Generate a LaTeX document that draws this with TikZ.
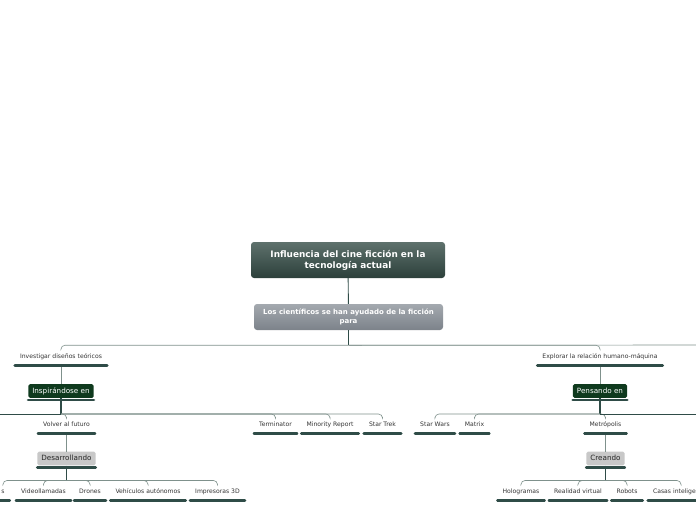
\documentclass[tikz,border=0pt]{standalone}
\usepackage{fontspec}
\setmainfont{DejaVu Sans}
\definecolor{rootTop}{HTML}{5E716C}
\definecolor{rootBot}{HTML}{2C403B}
\definecolor{sciTop}{HTML}{A4A9AF}
\definecolor{sciBot}{HTML}{7C828A}
\definecolor{barcol}{HTML}{2F4C47}
\definecolor{linkcol}{HTML}{7F918C}
\definecolor{boxgreen}{HTML}{0F3A1E}
\definecolor{boxgray}{HTML}{C8C8C8}
\definecolor{txt}{HTML}{333333}
\tikzset{
  root/.style={rounded corners=3, top color=rootTop, bottom color=rootBot, text=white,
    font=\fontsize{8.9}{11}\selectfont\bfseries, align=center,
    minimum width=194, minimum height=36, inner sep=0},
  sci/.style={rounded corners=3, top color=sciTop, bottom color=sciBot, text=white,
    font=\fontsize{7}{9}\selectfont\bfseries, align=center,
    minimum width=189, minimum height=26, inner sep=0},
  topic/.style={font=\fontsize{6.1}{7}\selectfont, text=txt, inner xsep=5, inner ysep=5,
    text height=4.6, text depth=1.3},
  greenbox/.style={fill=boxgreen, text=white, rounded corners=1.5,
    font=\fontsize{7.2}{8}\selectfont, inner xsep=4, inner ysep=3.2,
    text height=5.6, text depth=1.6},
  graybox/.style={greenbox, fill=boxgray, text=black!85},
  bar/.style={draw=barcol, line width=2.8, line cap=round},
  stem/.style={draw=barcol, line width=0.9},
  trunk/.style={draw=barcol, line width=1.4},
  link/.style={draw=linkcol, line width=0.6, rounded corners=4}
}
\begin{document}
\begin{tikzpicture}[x=1pt,y=-1pt]
\useasboundingbox (0,0) rectangle (696,520);
\clip (0,0) rectangle (696,520);
% centre
\node[root] (root) at (348,260) {Influencia del cine ficción en la\\tecnología actual};
\node[sci] (sci) at (348.5,317) {Los científicos se han ayudado de la ficción\\para};
% left branch
\node[topic] (inv) at (61,357) {Investigar diseños teóricos};
\node[greenbox] (insp) at (61,391) {Inspirándose en};
\node[topic] (volv) at (66.5,425) {Volver al futuro};
\node[topic] (term) at (275.5,425) {Terminator};
\node[topic] (mino) at (330,425) {Minority Report};
\node[topic] (strek) at (382.5,425) {Star Trek};
\node[graybox] (desa) at (66.5,458.5) {Desarrollando};
\node[topic] (celu) at (3,492) {s};
\node[topic] (video) at (43.5,492) {Videollamadas};
\node[topic] (dron) at (90,492) {Drones};
\node[topic] (vehi) at (148,492) {Vehículos autónomos};
\node[topic] (impr) at (217.5,492) {Impresoras 3D};
% right branch
\node[topic] (expl) at (600,357) {Explorar la relación humano-máquina};
\node[greenbox] (pens) at (600,391) {Pensando en};
\node[topic] (swars) at (435,425) {Star Wars};
\node[topic] (matr) at (474.5,425) {Matrix};
\node[topic] (metr) at (605.5,425) {Metrópolis};
\node[graybox] (crea) at (605.5,458.5) {Creando};
\node[topic] (holo) at (521,492) {Hologramas};
\node[topic] (rvirt) at (578,492) {Realidad virtual};
\node[topic] (robo) at (627,492) {Robots};
\node[topic] (casa) at (681,492) {Casas inteligentes};
\coordinate (offL) at (-10,414);
\coordinate (offR) at (710,345);
\coordinate (offRb) at (710,414);
% connectors
\draw[stem] (root) -- (sci);
\draw[stem] (sci.south) -- ++(0,15) coordinate (sciHub);
\draw[link] (sciHub) -| (inv.north);
\draw[link] (sciHub) -| (expl.north);
\draw[link] (sciHub) -- (offR);
\draw[link] (inv.south) -- (insp.north);
\draw[trunk] (insp.south) -- ++(0,16) coordinate (inspHub);
\foreach \n in {volv,term,mino,strek} \draw[link] (inspHub) -| (\n.north);
\draw[stem] (inspHub) -- (offL);
\draw[link] (volv.south) -- (desa.north);
\draw[trunk] (desa.south) -- ++(0,15) coordinate (desaHub);
\foreach \n in {celu,video,dron,vehi,impr} \draw[link] (desaHub) -| (\n.north);
\draw[link] (expl.south) -- (pens.north);
\draw[trunk] (pens.south) -- ++(0,16) coordinate (pensHub);
\foreach \n in {swars,matr,metr} \draw[link] (pensHub) -| (\n.north);
\draw[stem] (pensHub) -- (offRb);
\draw[link] (metr.south) -- (crea.north);
\draw[trunk] (crea.south) -- ++(0,15) coordinate (creaHub);
\foreach \n in {holo,rvirt,robo,casa} \draw[link] (creaHub) -| (\n.north);
% underline bars
\foreach \n in {inv,volv,term,mino,strek,celu,video,dron,vehi,impr,expl,swars,matr,metr,holo,rvirt,robo,casa}
  \draw[bar] (\n.south west) -- (\n.south east);
\foreach \n in {insp,desa,pens,crea}
  \draw[bar] ([yshift=-2pt]\n.south west) -- ([yshift=-2pt]\n.south east);
\end{tikzpicture}
\end{document}
